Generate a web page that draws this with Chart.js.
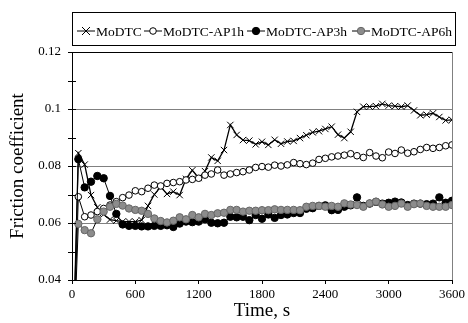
<!DOCTYPE html>
<html>
<head>
<meta charset="utf-8">
<script src="https://cdn.jsdelivr.net/npm/chart.js@4.4.1/dist/chart.umd.min.js"></script>
<style>
  body { margin: 0; background: #fff; }
  canvas { display: block; }
</style>
</head>
<body>
<canvas id="graphCanvas" width="468" height="323"></canvas>
<script>
var times = [0, 60, 120, 180, 240, 300, 360, 420, 480, 540, 600, 660, 720, 780, 840, 900, 960, 1020, 1080, 1140,
    1200, 1260, 1320, 1380, 1440, 1500, 1560, 1620, 1680, 1740, 1800, 1860, 1920, 1980, 2040, 2100, 2160, 2220,
    2280, 2340, 2400, 2460, 2520, 2580, 2640, 2700, 2760, 2820, 2880, 2940, 3000, 3060, 3120, 3180, 3240, 3300,
    3360, 3420, 3480, 3540, 3600];

var modtc = [0, 0.0845, 0.0805, 0.0698, 0.0655, 0.063, 0.0612, 0.0608, 0.0605, 0.0605, 0.0605, 0.061, 0.066,
    0.07, 0.0727, 0.0702, 0.071, 0.0698, 0.0755, 0.0785, 0.0758, 0.0782, 0.083, 0.0818, 0.0856, 0.0944, 0.0909,
    0.0891, 0.0889, 0.0876, 0.0885, 0.0874, 0.0892, 0.0878, 0.0886, 0.0888, 0.0898, 0.0908, 0.0918, 0.0922,
    0.093, 0.0938, 0.091, 0.0898, 0.092, 0.099, 0.1008, 0.1008, 0.101, 0.1018, 0.1012, 0.101, 0.1008, 0.1012,
    0.0995, 0.0978, 0.098, 0.0985, 0.0972, 0.096, 0.0962];

var ap1h = [0, 0.0692, 0.0622, 0.0628, 0.064, 0.0651, 0.0663, 0.0675, 0.0689, 0.0698, 0.0713, 0.071, 0.0722,
    0.0733, 0.073, 0.0739, 0.0742, 0.0745, 0.0751, 0.0753, 0.0757, 0.0768, 0.0772, 0.0786, 0.0768, 0.0772, 0.0777,
    0.078, 0.0786, 0.0795, 0.0798, 0.0796, 0.0803, 0.08, 0.0804, 0.0812, 0.0808, 0.0805, 0.081, 0.0823, 0.0827,
    0.0832, 0.0835, 0.0838, 0.0843, 0.0836, 0.083, 0.0847, 0.0835, 0.0829, 0.0849, 0.0844, 0.0856, 0.0845, 0.085,
    0.0858, 0.0865, 0.0862, 0.0865, 0.0871, 0.0874];

var ap3h = [0, 0.0824, 0.0725, 0.0745, 0.0765, 0.0757, 0.0695, 0.0632, 0.0595, 0.059, 0.059, 0.0588, 0.0588,
    0.059, 0.059, 0.0592, 0.0586, 0.0598, 0.0605, 0.0603, 0.0605, 0.0613, 0.0601, 0.0599, 0.0601, 0.0622, 0.062,
    0.0622, 0.061, 0.0628, 0.0615, 0.063, 0.0618, 0.0628, 0.063, 0.0635, 0.0635, 0.065, 0.0652, 0.066, 0.0662,
    0.0645, 0.0646, 0.0657, 0.0662, 0.069, 0.066, 0.0668, 0.0674, 0.0668, 0.0671, 0.0675, 0.0672, 0.0663, 0.0668,
    0.0668, 0.0666, 0.0668, 0.069, 0.0671, 0.0678];

var ap6h = [0, 0.0597, 0.0575, 0.0564, 0.0613, 0.064, 0.0657, 0.0667, 0.0661, 0.0651, 0.0646, 0.0643, 0.0632,
    0.0616, 0.0607, 0.0602, 0.0608, 0.062, 0.0613, 0.0628, 0.062, 0.0632, 0.0628, 0.0634, 0.0636, 0.0646, 0.0646,
    0.064, 0.0643, 0.0643, 0.0645, 0.0645, 0.0648, 0.0646, 0.0646, 0.0646, 0.0645, 0.0657, 0.066, 0.066, 0.0657,
    0.066, 0.0657, 0.0669, 0.0665, 0.0663, 0.0657, 0.0669, 0.0675, 0.0665, 0.0657, 0.066, 0.0668, 0.0657, 0.0666,
    0.0668, 0.066, 0.0657, 0.0657, 0.0657, 0.0663];

var seriesNames = ["MoDTC", "MoDTC-AP1h", "MoDTC-AP3h", "MoDTC-AP6h"];
var xTicks = [0, 600, 1200, 1800, 2400, 3000, 3600];

var serif = "'Liberation Serif', 'Times New Roman', serif";

function pts(values) {
    return times.map(function (t, i) { return { x: t, y: values[i] }; });
}

var styles = [
    { pointStyle: "crossRot", radius: 4.5, bg: "#000", border: "#000", order: 4 },
    { pointStyle: "circle", radius: 3.3, bg: "#fff", border: "#000", order: 3 },
    { pointStyle: "circle", radius: 3.7, bg: "#000", border: "#000", order: 2 },
    { pointStyle: "circle", radius: 3.7, bg: "#8c8c8c", border: "#666", order: 1 }
];

var allValues = [modtc, ap1h, ap3h, ap6h];
var datasets = allValues.map(function (v, i) {
    return {
        label: seriesNames[i],
        data: pts(v),
        borderColor: "#000",
        borderWidth: i == 0 ? 1.3 : 1,
        pointStyle: styles[i].pointStyle,
        pointRadius: styles[i].radius,
        pointBackgroundColor: styles[i].bg,
        pointBorderColor: styles[i].border,
        pointBorderWidth: 1,
        order: styles[i].order,
        tension: 0
    };
});

// legend box drawn on top, Excel style
var legendBox = {
    id: "legendBox",
    afterDraw: function (chart) {
        var c = chart.ctx;
        c.save();
        c.strokeStyle = "#000";
        c.lineWidth = 1;
        c.strokeRect(72.5, 12.5, 383, 33);
        c.font = "13.5px " + serif;
        c.fillStyle = "#000";
        c.textBaseline = "middle";
        var xs = [77, 144, 247, 352];
        var y = 31;
        for (var i = 0; i < 4; i++) {
            var x0 = xs[i];
            c.beginPath();
            c.moveTo(x0, y);
            c.lineTo(x0 + 18, y);
            c.strokeStyle = "#000";
            c.lineWidth = 1;
            c.stroke();
            var st = styles[i];
            var cx = x0 + 9;
            if (st.pointStyle == "crossRot") {
                c.beginPath();
                c.moveTo(cx - 4, y - 4); c.lineTo(cx + 4, y + 4);
                c.moveTo(cx - 4, y + 4); c.lineTo(cx + 4, y - 4);
                c.stroke();
            } else {
                c.beginPath();
                c.arc(cx, y, st.radius, 0, Math.PI * 2);
                c.fillStyle = st.bg;
                c.fill();
                c.strokeStyle = st.border;
                c.stroke();
            }
            c.fillStyle = "#000";
            c.textAlign = "left";
            c.fillText(seriesNames[i], x0 + 19, y + 1);
        }
        c.restore();
    }
};

// y tick marks crossing the axis
var crossTicks = {
    id: "crossTicks",
    afterDraw: function (chart) {
        var c = chart.ctx;
        var ys = chart.scales.y;
        var left = chart.chartArea.left;
        c.save();
        c.strokeStyle = "#000";
        c.lineWidth = 1;
        ys.ticks.forEach(function (tk) {
            var py = Math.round(ys.getPixelForValue(tk.value)) + 0.5;
            c.beginPath();
            c.moveTo(left - 4, py);
            c.lineTo(left + 4, py);
            c.stroke();
        });
        c.restore();
    }
};

var ctx = document.getElementById("graphCanvas");
var chart1 = new Chart(ctx, {
    type: "line",
    data: { datasets: datasets },
    options: {
        responsive: false,
        animation: false,
        layout: { padding: { top: 52, right: 12, left: 0, bottom: 0 } },
        plugins: { legend: { display: false }, tooltip: { enabled: false } },
        scales: {
            x: {
                type: "linear",
                min: 0,
                max: 3600,
                afterBuildTicks: function (scale) {
                    scale.ticks = xTicks.map(function (v) { return { value: v }; });
                },
                afterFit: function (scale) { scale.height = 43; },
                ticks: {
                    font: { family: serif, size: 13 },
                    color: "#000",
                    padding: 3,
                    maxRotation: 0,
                    callback: function (v) { return String(v); }
                },
                grid: {
                    color: function (c) { return c.tick && c.tick.value == 3600 ? "#808080" : "rgba(0,0,0,0)"; },
                    tickColor: "#000",
                    tickLength: 4
                },
                border: { color: "#000", width: 1 },
                title: {
                    display: true,
                    text: "Time, s",
                    color: "#000",
                    font: { family: serif, size: 19, lineHeight: 1.2 },
                    padding: { top: 0, bottom: 1 }
                }
            },
            y: {
                min: 0.04,
                max: 0.12,
                afterFit: function (scale) { scale.width = 72; },
                ticks: {
                    stepSize: 0.01,
                    font: { family: serif, size: 13 },
                    color: "#000",
                    padding: 11,
                    callback: function (v) {
                        var n = Math.round(v * 100);
                        return n % 2 == 0 ? String(n / 100) : "";
                    }
                },
                grid: {
                    drawTicks: false,
                    color: function (c) {
                        if (!c.tick) return "rgba(0,0,0,0)";
                        var n = Math.round(c.tick.value * 100);
                        if (n == 12) return "#000";
                        if (n == 6 || n == 8 || n == 10) return "#808080";
                        return "rgba(0,0,0,0)";
                    }
                },
                border: { color: "#000", width: 1 },
                title: {
                    display: true,
                    text: "Friction coefficient",
                    color: "#000",
                    font: { family: serif, size: 19, lineHeight: 1.2 },
                    padding: { top: 7, bottom: 0 }
                }
            }
        }
    },
    plugins: [legendBox, crossTicks]
});
</script>
</body>
</html>
